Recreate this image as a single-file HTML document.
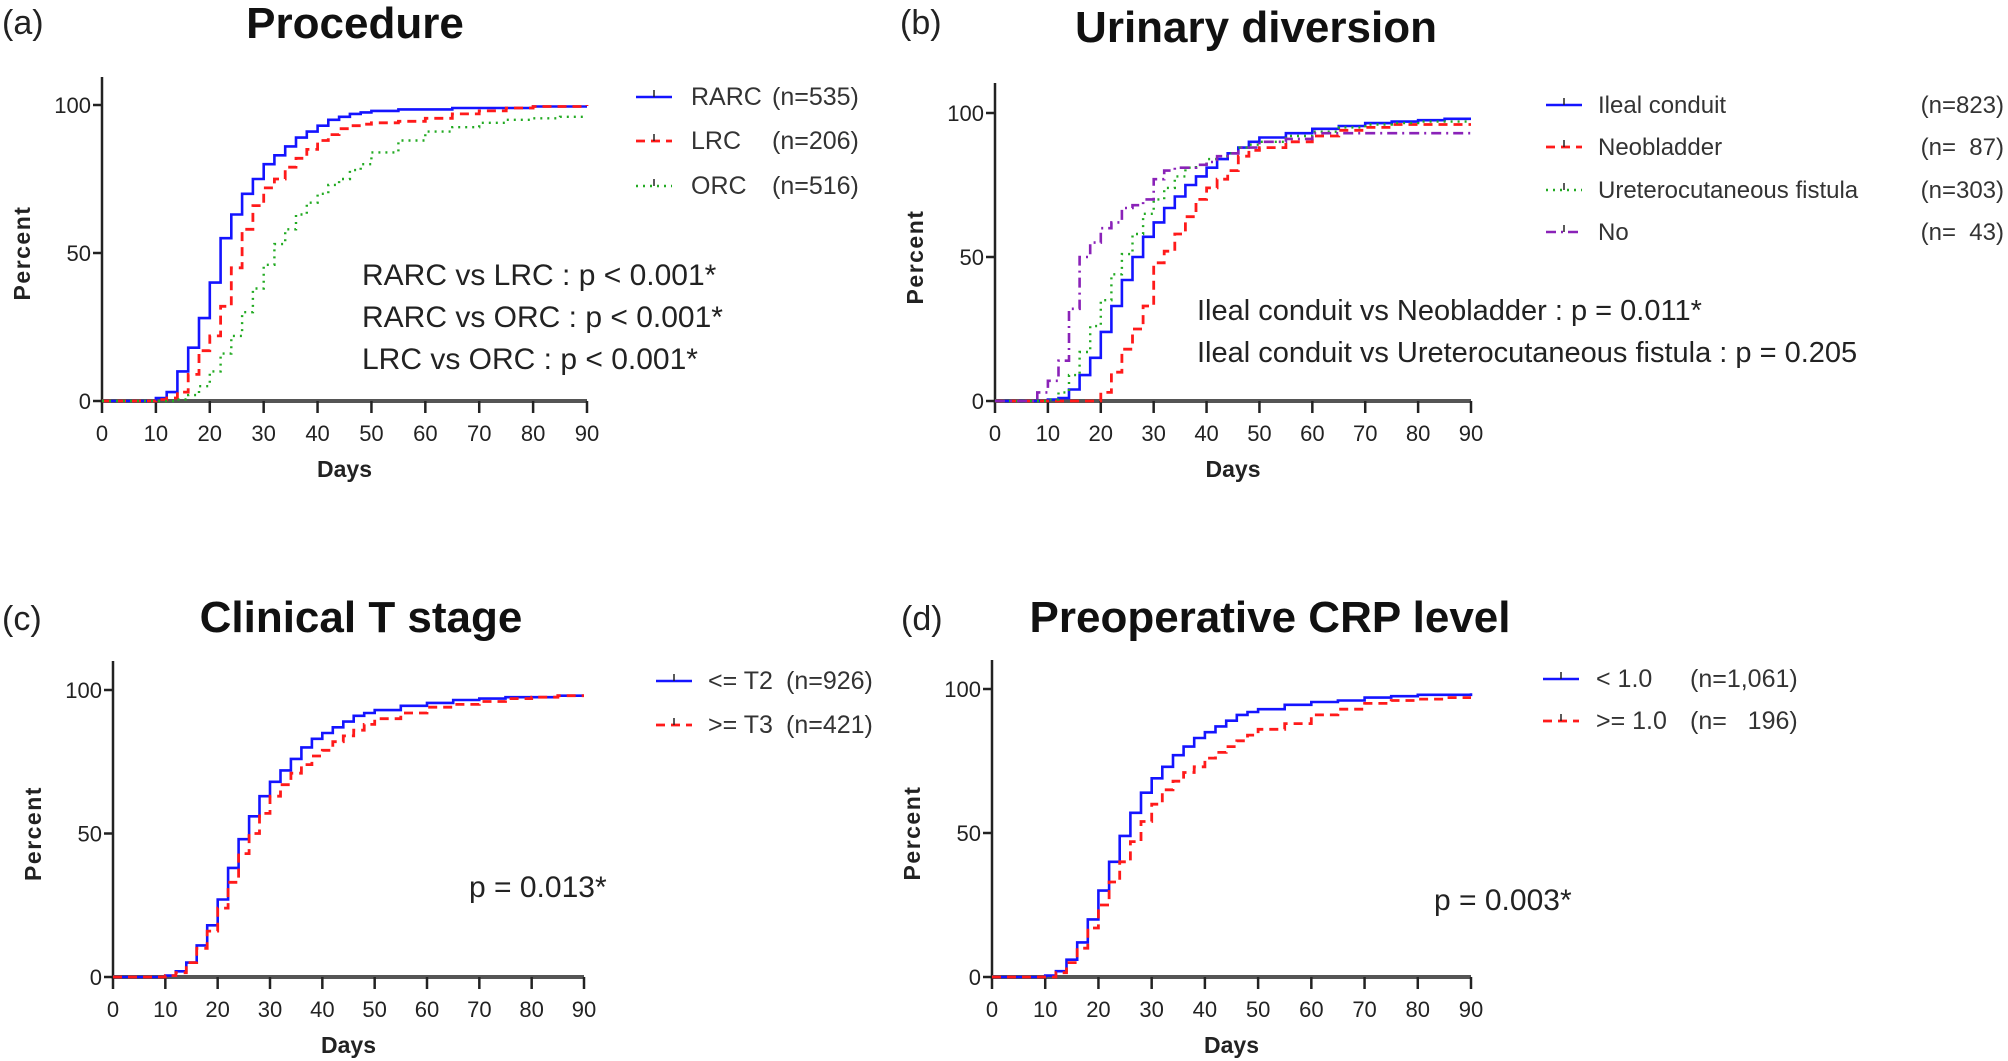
<!DOCTYPE html>
<html><head><meta charset="utf-8"><style>
html,body{margin:0;padding:0;background:#fff;}
svg{display:block;font-family:"Liberation Sans",Arial,sans-serif;}
svg text{white-space:pre;}
</style></head><body>
<svg id="fig" width="2008" height="1061" viewBox="0 0 2008 1061"></svg>
<script>
const days=[0,8,10,12,14,16,18,20,22,24,26,28,30,32,34,36,38,40,42,44,46,48,50,55,60,65,70,75,80,85,90];
const xTicks=[0,10,20,30,40,50,60,70,80,90];
const yTicks=[0,50,100];
// Panel a
const aRARC=[0,0,1,3,10,18,28,40,55,63,70,75,80,83,86,89,91,93,95,96,97,97.5,98,98.5,98.5,99,99,99,99.5,99.5,99.5];
const aLRC=[0,0,0.5,1,3,9,17,22,32,45,58,66,72,75,79,82,85,88,90,92,93,93.5,94,94.5,95.5,97,98,99,99.5,99.5,100];
const aORC=[0,0,0,0,0.5,2,5,10,16,22,30,38,46,53,58,63,67,70,73,75,78,80,84,88,91,92.5,94,95,95.5,96,96];
// Panel b
const bIleal=[0,0,0.5,1,4,9,15,24,33,42,50,57,62,67,71,75,78,81,84,86,88,90,91.5,93,94.5,95.5,96.5,97,97.5,98,98];
const bNeo=[0,0,0,0,0,0,0,3,10,18,25,33,48,52,58,64,70,74,77,80,85,87,88,90,92,94,95,96,96,96,96];
const bUF=[0,0,0.5,3,9,17,26,35,44,51,58,65,70,74,78,81,82,84,85,86,88,89,90,92,93.5,95,96,96.5,97,97,97];
const bNo=[0,3,7,14,32,50,55,60,62,67,68,70,77,80,81,81,82,83,85,86,88,88,90,91,93,93,93,93,93,93,93];
// Panel c
const cT2=[0,0,0.5,2,5,11,18,27,38,48,56,63,68,72,76,80,83,85,87,89,91,92,93,94.5,95.5,96.5,97,97.5,97.5,98,98];
const cT3=[0,0,0.5,1.5,5,10,16,24,33,43,50,57,63,67,71,74,77,79,82,84,86,88,90,92,94,95,96,97,97.5,98,98];
// Panel d
const dLow=[0,0,0.5,2,6,12,20,30,40,49,57,64,69,73,77,80,83,85,87,89,91,92,93,94.5,95.5,96,97,97.5,98,98,98.5];
const dHigh=[0,0,0,1.5,5,10,17,25,33,40,47,54,60,65,68,71,73,76,78,80,82,84,86,88,91,93,95,96,96.5,97,97];

const NS='http://www.w3.org/2000/svg';
const svg=document.getElementById('fig');
function mk(tag,attrs,parent,text){const e=document.createElementNS(NS,tag);for(const k in attrs)e.setAttribute(k,attrs[k]);if(text!==undefined)e.textContent=text;(parent||svg).appendChild(e);return e;}
const STY={
 blue:{stroke:'#1414ff',w:2.6,dash:''},
 red:{stroke:'#ff1a1a',w:2.8,dash:'9,6'},
 green:{stroke:'#22aa22',w:2.4,dash:'2,5'},
 purple:{stroke:'#8a22b8',w:2.6,dash:'10,5,2,5'}
};
function panel(p){
 const g=mk('g',{});
 
 
 const sx=d=>p.x0+(p.x90-p.x0)*d/90;
 const sy=v=>p.y0-(p.y0-p.y100)*v/100;
 let t=mk('text',{x:p.lx,y:p.ly,'font-size':34,fill:'#222'},g,p.letter);
 
 t=mk('text',{x:p.tx,y:p.ty,'font-size':44,'font-weight':'bold','text-anchor':'middle',fill:'#111'},g,p.title);
 
 let a=mk('line',{x1:p.x0,y1:p.ytop,x2:p.x0,y2:p.y0+2,stroke:'#222','stroke-width':2.5},g);
 
 a=mk('line',{x1:p.x0,y1:p.y0,x2:p.x90,y2:p.y0,stroke:'#555','stroke-width':4},g);
 
 xTicks.forEach(v=>{
  const l=mk('line',{x1:sx(v),y1:p.y0,x2:sx(v),y2:p.y0+12,stroke:'#222','stroke-width':2.5},g);
  
  const tt=mk('text',{x:sx(v),y:p.y0+40,'font-size':22,'text-anchor':'middle',fill:'#222'},g,String(v));
  
 });
 yTicks.forEach(v=>{
  const l=mk('line',{x1:p.x0-9,y1:sy(v),x2:p.x0,y2:sy(v),stroke:'#222','stroke-width':2.5},g);
  
  const tt=mk('text',{x:p.x0-11,y:sy(v)+8,'font-size':22,'text-anchor':'end',fill:'#222'},g,String(v));
  
 });
 t=mk('text',{x:(p.x0+p.x90)/2,y:p.y0+76,'font-size':23,'font-weight':'bold','text-anchor':'middle',fill:'#222'},g,'Days');
 
 const ym=(p.y0+p.y100)/2;
 t=mk('text',{x:0,y:0,'font-size':23,'font-weight':'bold','text-anchor':'middle',fill:'#222',transform:`translate(${p.x0-72},${ym}) rotate(-90)`,'letter-spacing':'1.5'},g,'Percent');
 
 p.series.forEach((s,i)=>{
  const st=STY[s.c];
  let d=`M${sx(days[0])},${sy(s.v[0])}`;
  for(let k=1;k<days.length;k++){d+=` H${sx(days[k]).toFixed(1)} V${sy(s.v[k]).toFixed(1)}`;}
  const path=mk('path',{d:d,fill:'none',stroke:st.stroke,'stroke-width':st.w,'stroke-dasharray':st.dash},g);
  
  
  const ly=p.legY[i];
  const ll=mk('line',{x1:p.legX,y1:ly,x2:p.legX+36,y2:ly,stroke:st.stroke,'stroke-width':st.w,'stroke-dasharray':st.dash},g);
  
  mk('line',{x1:p.legX+18,y1:ly-7,x2:p.legX+18,y2:ly,stroke:'#222','stroke-width':1.5},g);
  const lt=mk('text',{x:p.legTx,y:ly+8,'font-size':p.legFs,fill:'#333'},g,s.name);
  
  const ln=mk('text',{x:p.legNx,y:ly+8,'font-size':p.legFs,fill:'#333','text-anchor':p.nAnchor||'start'},g,s.n);
  
 });
 p.ptext.forEach((s,i)=>{
  const pt=mk('text',{x:p.px,y:p.py+i*p.pdy,'font-size':p.pfs,fill:'#222'},g,s);
  
 });
}
panel({id:'a',letter:'(a)',lx:2,ly:34,title:'Procedure',tx:355,ty:38,x0:102,x90:587,y0:401,y100:105,ytop:77,
 legX:636,legTx:691,legNx:772,legFs:25,legY:[97,141,186],
 series:[{key:'rarc',c:'blue',v:aRARC,name:'RARC',n:'(n=535)'},{key:'lrc',c:'red',v:aLRC,name:'LRC',n:'(n=206)'},{key:'orc',c:'green',v:aORC,name:'ORC',n:'(n=516)'}],
 ptext:['RARC vs LRC : p < 0.001*','RARC vs ORC : p < 0.001*','LRC vs ORC : p < 0.001*'],px:362,py:285,pdy:42,pfs:30});
panel({id:'b',letter:'(b)',lx:900,ly:34,title:'Urinary diversion',tx:1256,ty:42,x0:995,x90:1471,y0:401,y100:113,ytop:83,
 legX:1546,legTx:1598,legNx:2004,nAnchor:'end',legFs:24,legY:[105,147,190,232],
 series:[{key:'ileal',c:'blue',v:bIleal,name:'Ileal conduit',n:'(n=823)'},{key:'neo',c:'red',v:bNeo,name:'Neobladder',n:'(n=  87)'},{key:'uf',c:'green',v:bUF,name:'Ureterocutaneous fistula',n:'(n=303)'},{key:'no',c:'purple',v:bNo,name:'No',n:'(n=  43)'}],
 ptext:['Ileal conduit vs Neobladder : p = 0.011*','Ileal conduit vs Ureterocutaneous fistula : p = 0.205'],px:1197,py:320,pdy:42,pfs:29});
panel({id:'c',letter:'(c)',lx:2,ly:630,title:'Clinical T stage',tx:361,ty:632,x0:113,x90:584,y0:977,y100:690,ytop:661,
 legX:656,legTx:708,legNx:786,legFs:25,legY:[681,725],
 series:[{key:'t2',c:'blue',v:cT2,name:'<= T2',n:'(n=926)'},{key:'t3',c:'red',v:cT3,name:'>= T3',n:'(n=421)'}],
 ptext:['p = 0.013*'],px:469,py:897,pdy:0,pfs:30});
panel({id:'d',letter:'(d)',lx:901,ly:630,title:'Preoperative CRP level',tx:1270,ty:632,x0:992,x90:1471,y0:977,y100:689,ytop:660,
 legX:1543,legTx:1596,legNx:1690,legFs:25,legY:[679,721],
 series:[{key:'low',c:'blue',v:dLow,name:'< 1.0',n:'(n=1,061)'},{key:'high',c:'red',v:dHigh,name:'>= 1.0',n:'(n=   196)'}],
 ptext:['p = 0.003*'],px:1434,py:910,pdy:0,pfs:30});
</script>
</body></html>
